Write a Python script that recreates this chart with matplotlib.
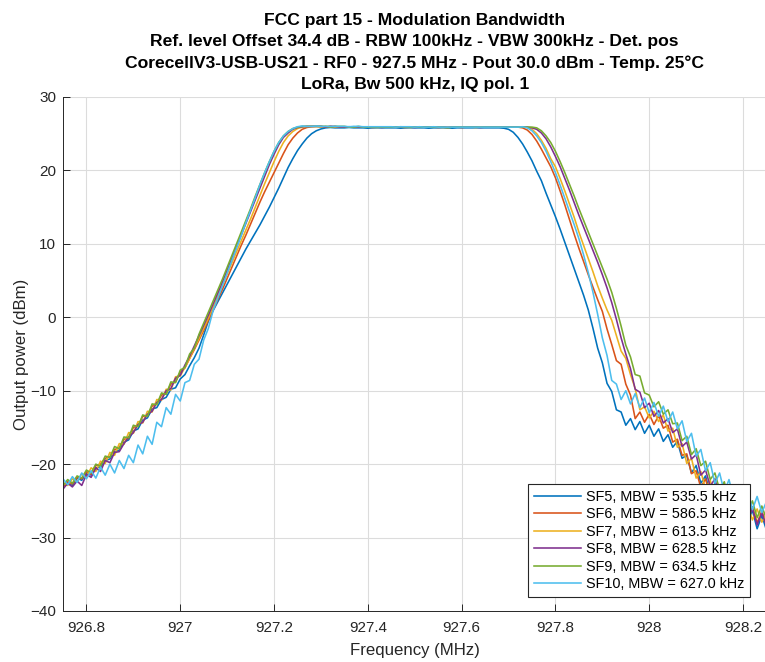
import numpy as np
import matplotlib
matplotlib.use("Agg")
import matplotlib.pyplot as plt

plt.rcParams['font.family'] = ['Liberation Sans', 'DejaVu Sans']

# ---------------- data ----------------
freq_start, freq_stop, n_points = 926.75, 928.25, 151
freq_mhz = np.linspace(freq_start, freq_stop, n_points)

labels = ["SF5, MBW = 535.5 kHz", "SF6, MBW = 586.5 kHz", "SF7, MBW = 613.5 kHz",
          "SF8, MBW = 628.5 kHz", "SF9, MBW = 634.5 kHz", "SF10, MBW = 627.0 kHz"]

sf5 = [
    -23.0, -22.6, -22.9, -21.9, -22.2, -21.2, -21.5, -20.5, -20.4, -19.5,
    -19.3, -18.3, -18.1, -17.0, -16.7, -15.5, -15.2, -14.0, -13.7, -12.5,
    -12.3, -11.2, -10.9, -9.8, -9.6, -8.4, -7.8, -6.6, -5.5, -4.2,
    -2.4, -0.5, 0.9, 2.1, 3.3, 4.5, 5.7, 6.9, 8.1, 9.3,
    10.4, 11.5, 12.6, 13.8, 15.0, 16.3, 17.6, 19.0, 20.4, 21.6,
    22.7, 23.6, 24.4, 25.0, 25.4, 25.65, 25.8, 25.85, 25.8, 25.8,
    25.8, 25.85, 25.8, 25.8, 25.8, 25.75, 25.8, 25.8, 25.8, 25.8,
    25.8, 25.8, 25.75, 25.8, 25.8, 25.8, 25.8, 25.8, 25.75, 25.8,
    25.8, 25.8, 25.8, 25.75, 25.8, 25.8, 25.8, 25.8, 25.8, 25.8,
    25.8, 25.8, 25.8, 25.8, 25.75, 25.6, 25.2, 24.5, 23.6, 22.5,
    21.3, 19.9, 18.6, 16.9, 15.3, 13.7, 12.0, 10.2, 8.4, 6.6,
    4.8, 3.0, 1.0, -1.5, -4.2, -6.2, -9.0, -10.1, -12.6, -12.9,
    -14.7, -13.8, -15.3, -14.2, -15.8, -14.7, -16.2, -15.2, -16.9, -16.0,
    -17.7, -16.9, -19.2, -18.8, -21.2, -20.2, -22.6, -21.6, -24.0, -22.6,
    -25.1, -23.6, -26.2, -24.6, -27.1, -25.5, -27.8, -26.3, -28.8, -27.0, -29.0]

sf6 = [
    -23.1, -22.4, -22.7, -21.8, -22.0, -21.0, -21.4, -20.2, -20.0, -19.2,
    -19.0, -18.0, -17.8, -16.6, -16.5, -15.0, -14.8, -13.5, -13.4, -12.1,
    -11.8, -10.6, -10.4, -9.1, -8.8, -7.5, -6.9, -5.6, -4.4, -3.1,
    -1.8, -0.4, 1.0, 2.4, 3.8, 5.3, 6.8, 8.3, 9.8, 11.2,
    12.7, 14.2, 15.7, 17.1, 18.4, 19.7, 21.0, 22.3, 23.5, 24.4,
    25.1, 25.6, 25.85, 25.95, 26.0, 26.0, 25.9, 26.0, 25.9, 25.9,
    25.9, 25.95, 25.9, 25.9, 25.9, 25.9, 25.85, 25.9, 25.9, 25.9,
    25.9, 25.9, 25.9, 25.85, 25.9, 25.9, 25.9, 25.9, 25.9, 25.9,
    25.85, 25.9, 25.9, 25.9, 25.9, 25.85, 25.9, 25.9, 25.9, 25.9,
    25.9, 25.9, 25.9, 25.9, 25.9, 25.9, 25.9, 25.9, 25.8, 25.5,
    24.9, 24.0, 22.9, 21.7, 20.5, 19.0, 17.2, 15.3, 13.3, 11.3,
    9.4, 7.6, 5.8, 4.1, 2.4, 0.8, -1.6, -3.7, -5.9, -6.4,
    -9.1, -10.6, -13.8, -12.9, -14.3, -13.2, -14.6, -13.4, -15.1, -14.7,
    -17.0, -16.6, -18.8, -18.6, -21.3, -20.9, -23.2, -22.0, -24.3, -23.0,
    -25.3, -23.7, -26.1, -24.6, -26.9, -25.1, -27.5, -25.8, -28.0, -26.4, -28.2]

sf7 = [
    -22.6, -22.9, -22.0, -22.4, -21.3, -21.7, -20.5, -21.0, -19.6, -19.9,
    -18.4, -18.8, -17.2, -17.3, -15.7, -15.8, -14.2, -14.4, -12.8, -12.9,
    -11.2, -11.3, -9.8, -9.9, -8.1, -8.0, -6.8, -5.6, -4.2, -2.9,
    -1.5, -0.1, 1.4, 2.9, 4.4, 5.9, 7.4, 8.9, 10.4, 11.9,
    13.4, 15.0, 16.6, 18.2, 19.7, 21.2, 22.6, 23.8, 24.7, 25.3,
    25.7, 25.9, 26.0, 26.0, 26.0, 25.9, 26.0, 26.0, 25.9, 25.9,
    25.9, 25.95, 25.9, 25.9, 25.9, 25.9, 25.9, 25.85, 25.9, 25.9,
    25.9, 25.9, 25.9, 25.9, 25.85, 25.9, 25.9, 25.9, 25.9, 25.9,
    25.9, 25.85, 25.9, 25.9, 25.9, 25.9, 25.9, 25.9, 25.85, 25.9,
    25.9, 25.9, 25.9, 25.9, 25.9, 25.9, 25.9, 25.9, 25.9, 25.85,
    25.6, 25.0, 24.1, 23.0, 21.6, 20.5, 18.9, 17.2, 15.4, 13.6,
    11.6, 9.8, 8.0, 6.2, 4.3, 2.6, 1.0, -0.4, -2.5, -4.6,
    -5.6, -7.8, -9.7, -12.6, -12.2, -13.7, -12.8, -14.2, -13.3, -15.5,
    -15.1, -17.7, -17.2, -19.9, -19.2, -21.9, -21.0, -23.4, -22.2, -24.6,
    -23.2, -25.4, -23.9, -26.3, -24.8, -27.0, -25.6, -27.6, -26.1, -27.9, -26.8]

sf8 = [
    -23.4, -22.6, -23.1, -22.3, -22.9, -21.4, -21.8, -20.5, -21.0, -19.5,
    -19.8, -18.4, -18.3, -17.2, -16.3, -15.7, -14.6, -14.3, -13.2, -12.8,
    -11.6, -11.2, -10.0, -9.7, -8.3, -7.9, -6.5, -5.3, -3.9, -2.5,
    -1.1, 0.3, 1.8, 3.3, 4.8, 6.4, 8.0, 9.6, 11.2, 12.8,
    14.4, 16.0, 17.6, 19.2, 20.8, 22.2, 23.5, 24.5, 25.1, 25.6,
    25.85, 25.95, 26.0, 26.0, 26.0, 26.0, 25.9, 26.0, 26.0, 25.9,
    25.9, 25.9, 25.95, 25.9, 25.9, 25.9, 25.9, 25.9, 25.85, 25.9,
    25.9, 25.9, 25.9, 25.9, 25.9, 25.85, 25.9, 25.9, 25.9, 25.9,
    25.9, 25.9, 25.85, 25.9, 25.9, 25.9, 25.9, 25.9, 25.9, 25.85,
    25.9, 25.9, 25.9, 25.9, 25.9, 25.9, 25.9, 25.9, 25.9, 25.9,
    25.8, 25.6, 25.1, 24.3, 23.2, 21.9, 20.5, 18.9, 17.3, 15.6,
    13.9, 12.3, 10.7, 9.1, 7.5, 5.8, 4.0, 2.0, -0.3, -2.8,
    -5.0, -7.0, -9.8, -10.2, -12.3, -11.7, -13.5, -12.7, -14.4, -13.8,
    -15.7, -15.2, -17.6, -17.0, -19.3, -18.7, -21.5, -20.8, -23.0, -22.0,
    -24.5, -23.1, -25.6, -24.2, -26.6, -25.0, -27.6, -26.0, -28.3, -26.6, -28.5]

sf9 = [
    -22.9, -22.1, -22.6, -21.6, -21.9, -20.8, -21.2, -20.0, -20.3, -18.9,
    -19.1, -17.6, -17.9, -16.3, -16.4, -14.7, -14.9, -13.3, -13.5, -11.8,
    -11.9, -10.3, -10.5, -8.8, -8.9, -7.2, -6.8, -5.0, -4.2, -2.3,
    -0.8, 0.7, 2.2, 3.7, 5.2, 6.8, 8.4, 10.0, 11.6, 13.2,
    14.8, 16.5, 18.1, 19.7, 21.2, 22.6, 23.8, 24.7, 25.3, 25.7,
    25.9, 26.0, 26.0, 26.0, 26.0, 26.0, 26.0, 25.9, 26.0, 26.0,
    26.0, 25.9, 25.9, 26.0, 25.9, 25.9, 25.9, 25.9, 25.9, 25.9,
    25.9, 25.9, 25.95, 25.9, 25.9, 25.9, 25.9, 25.9, 25.9, 25.9,
    25.9, 25.9, 25.8, 25.9, 25.9, 25.9, 25.9, 25.9, 25.9, 25.9,
    25.9, 25.9, 25.9, 25.9, 25.9, 25.9, 25.9, 25.9, 25.9, 25.9,
    25.9, 25.8, 25.4, 24.7, 23.8, 22.6, 21.2, 19.7, 18.1, 16.5,
    14.8, 13.2, 11.6, 10.0, 8.4, 6.8, 5.2, 3.4, 1.2, -1.2,
    -3.8, -5.4, -7.8, -8.0, -10.3, -10.6, -12.2, -11.5, -13.2, -12.6,
    -14.5, -14.4, -16.8, -16.2, -18.7, -17.9, -20.2, -19.6, -22.1, -21.2,
    -23.5, -22.4, -24.8, -23.4, -25.6, -24.2, -26.5, -25.0, -27.3, -25.7, -27.5]

sf10 = [
    -22.0, -22.8, -21.7, -22.5, -21.2, -22.0, -20.9, -21.9, -20.4, -21.5,
    -20.0, -21.2, -19.5, -20.6, -18.8, -19.8, -17.4, -18.6, -16.2, -17.3,
    -14.3, -14.9, -12.3, -13.2, -10.5, -11.4, -8.9, -8.6, -6.4, -5.7,
    -3.1, -1.5, 0.9, 2.6, 4.3, 6.0, 7.7, 9.4, 11.1, 12.9,
    14.6, 16.3, 18.1, 19.7, 21.2, 22.6, 23.8, 24.7, 25.3, 25.7,
    25.95, 26.05, 26.0, 26.0, 26.05, 26.0, 26.0, 26.0, 26.0, 26.0,
    26.0, 25.95, 26.0, 26.0, 25.95, 25.95, 25.95, 25.95, 25.95, 25.95,
    25.95, 25.9, 25.95, 25.95, 25.95, 25.9, 25.95, 25.9, 25.9, 25.95,
    25.9, 25.9, 25.9, 25.9, 25.9, 25.9, 25.9, 25.9, 25.9, 25.9,
    25.9, 25.9, 25.9, 25.9, 25.9, 25.9, 25.9, 25.9, 25.95, 25.8,
    25.4, 24.7, 23.8, 22.6, 21.2, 19.7, 18.0, 16.2, 14.4, 12.6,
    10.7, 8.5, 6.1, 3.4, 0.4, -2.8, -5.2, -8.6, -9.1, -11.2,
    -10.0, -11.8, -10.4, -12.3, -11.0, -13.0, -11.6, -13.5, -12.1, -14.2,
    -12.9, -15.2, -14.1, -16.9, -15.8, -18.9, -18.0, -20.9, -19.8, -22.6,
    -21.2, -23.8, -22.1, -24.6, -22.8, -25.4, -23.6, -26.2, -24.4, -26.6, -25.1]

series = [sf5, sf6, sf7, sf8, sf9, sf10]
colors = ["#0072BD", "#D95319", "#EDB120", "#7E2F8E", "#77AC30", "#4DBEEE"]

xticks = [926.8, 927.0, 927.2, 927.4, 927.6, 927.8, 928.0, 928.2]
xticklabels = ["926.8", "927", "927.2", "927.4", "927.6", "927.8", "928", "928.2"]
yticks = [-40, -30, -20, -10, 0, 10, 20, 30]

title_lines = ["FCC part 15 - Modulation Bandwidth",
               "Ref. level Offset 34.4 dB - RBW 100kHz - VBW 300kHz - Det. pos",
               "CorecellV3-USB-US21 - RF0 - 927.5 MHz - Pout 30.0 dBm - Temp. 25°C",
               "LoRa, Bw 500 kHz, IQ pol. 1"]

for s in series:
    if len(s) != n_points:
        raise ValueError(f"series length {len(s)}")

# ---------------- figure ----------------
W, H = 765, 662
fig = plt.figure(figsize=(W / 100, H / 100), dpi=100)
ax = fig.add_axes([63 / W, 1 - 611 / H, 703.5 / W, 514 / H])

for vals, col, lab in zip(series, colors, labels):
    ax.plot(freq_mhz, vals, color=col, lw=1.15, label=lab)

ax.set_xlim(freq_start, freq_stop)
ax.set_ylim(-40, 30)
ax.set_xticks(xticks)
ax.set_xticklabels(xticklabels)
ax.set_yticks(yticks)
ax.grid(True, color="#dcdcdc", lw=0.8)
ax.set_axisbelow(True)
for sp in ["top", "right"]:
    ax.spines[sp].set_visible(False)
for sp in ["left", "bottom"]:
    ax.spines[sp].set_color("#262626")
    ax.spines[sp].set_linewidth(0.7)
ax.tick_params(direction="in", length=5, width=0.7, colors="#262626",
               labelsize=11)
ax.tick_params(axis="x", pad=7)
ax.tick_params(axis="y", pad=5)

ax.set_xlabel("Frequency (MHz)", fontsize=12.1, color="#262626", labelpad=6)
ax.set_ylabel("Output power (dBm)", fontsize=12.1, color="#262626", labelpad=0.5)
ax.set_title("\n".join(title_lines), fontsize=12.6, fontweight="bold",
             color="black", linespacing=1.5, pad=6)

leg = ax.legend(loc="lower right", bbox_to_anchor=(0.9765, 0.0272),
                borderaxespad=0, fontsize=10.4, fancybox=False, framealpha=1,
                edgecolor="#262626", handlelength=3.3, handletextpad=0.3,
                labelspacing=0.24, borderpad=0.4)
leg.get_frame().set_linewidth(0.8)

fig.savefig("out.png", dpi=100)
